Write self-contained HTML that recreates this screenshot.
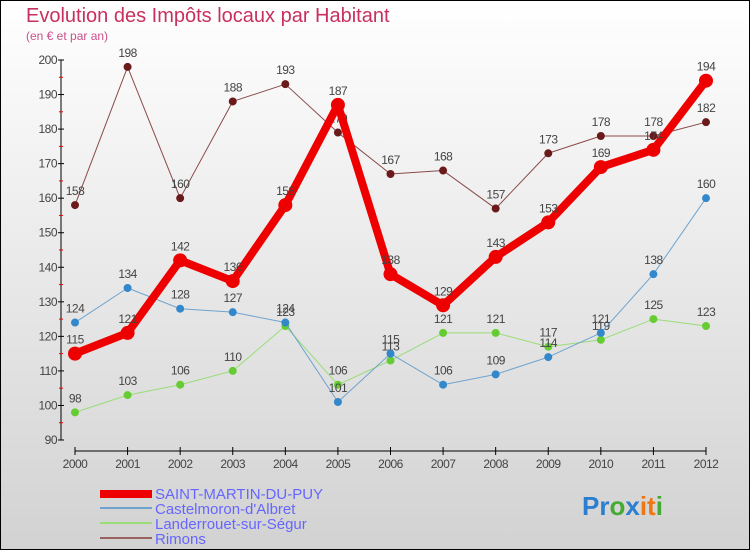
<!DOCTYPE html>
<html><head><meta charset="utf-8"><style>
body{margin:0;}
#c{width:750px;height:550px;position:relative;overflow:hidden;}
svg text{font-family:"Liberation Sans",sans-serif;}
</style></head><body>
<div id="c">
<svg id="s" width="750" height="550" xmlns="http://www.w3.org/2000/svg">
<defs><linearGradient id="bg" x1="0" y1="0" x2="0" y2="1"><stop offset="0" stop-color="#ffffff"/><stop offset="1" stop-color="#d2d2d2"/></linearGradient></defs>
<rect x="0.5" y="0.5" width="749" height="549" fill="url(#bg)" stroke="#000"/>
<text x="26" y="22" font-size="20" fill="#c8305f">Evolution des Impôts locaux par Habitant</text>
<text x="26" y="40" font-size="12" fill="#c8508a">(en € et par an)</text>
<g id="axes"></g><g id="series"></g>
<g>
<rect x="100" y="490" width="52" height="8" fill="#ee0000"/>
<text x="155" y="499" font-size="15" fill="#6666ff">SAINT-MARTIN-DU-PUY</text>
<line x1="100" y1="508" x2="152" y2="508" stroke="#6fa3cf" stroke-width="2"/>
<text x="155" y="514" font-size="15" fill="#6666ff">Castelmoron-d'Albret</text>
<line x1="100" y1="523" x2="152" y2="523" stroke="#99dd77" stroke-width="2"/>
<text x="155" y="529" font-size="15" fill="#6666ff">Landerrouet-sur-Ségur</text>
<line x1="100" y1="538" x2="152" y2="538" stroke="#9a6060" stroke-width="2"/>
<text x="155" y="544" font-size="15" fill="#6666ff">Rimons</text>
</g>
<text x="582" y="515" font-size="26" font-weight="bold"><tspan fill="#2a7fd0">Pr</tspan><tspan fill="#44aa33">o</tspan><tspan fill="#2a7fd0">x</tspan><tspan fill="#ee7711">it</tspan><tspan fill="#44aa33">i</tspan></text>
</svg></div>
<script>
const years=[2000,2001,2002,2003,2004,2005,2006,2007,2008,2009,2010,2011,2012];
const yTicks=[90,100,110,120,130,140,150,160,170,180,190,200];
const saintMartin=[115,121,142,136,158,187,138,129,143,153,169,174,194];
const castelmoron=[124,134,128,127,124,101,115,106,109,114,121,138,160];
const landerrouet=[98,103,106,110,123,106,113,121,121,117,119,125,123];
const rimons=[158,198,160,188,193,179,167,168,157,173,178,178,182];
const NS="http://www.w3.org/2000/svg";
function xs(i){return 75+i*(706-75)/(years.length-1);}
function ys(v){return 440-(v-90)*(380/110);}
function mk(t,a,p){const e=document.createElementNS(NS,t);for(const k in a)e.setAttribute(k,a[k]);p.appendChild(e);return e;}
const ax=document.getElementById('axes');
let e=mk('line',{x1:61,y1:ys(200),x2:61,y2:ys(90),stroke:'#000','stroke-width':1},ax);


yTicks.forEach(v=>{
 let t=mk('line',{x1:58,y1:ys(v),x2:64,y2:ys(v),stroke:'#000'},ax);
 
 
 if(v<200){let m=mk('line',{x1:59,y1:ys(v+5),x2:63,y2:ys(v+5),stroke:'#e00'},ax);
 
 }
 let l=mk('text',{x:57,y:ys(v)+4,'font-size':12,fill:'#444','text-anchor':'end','letter-spacing':'-0.5'},ax);l.textContent=v;
 
 
});
e=mk('line',{x1:75,y1:451,x2:706,y2:451,stroke:'#000'},ax);


years.forEach((y,i)=>{
 let t=mk('line',{x1:xs(i),y1:447,x2:xs(i),y2:455,stroke:'#000'},ax);
 
 
 let l=mk('text',{x:xs(i),y:468,'font-size':12,fill:'#444','text-anchor':'middle','letter-spacing':'-0.5'},ax);l.textContent=y;
 
 
});
const sg=document.getElementById('series');
function draw(data,name,col,w,r,dotCol){
 const g=mk('g',{},sg);
 
 
 let p=mk('polyline',{points:data.map((v,i)=>xs(i)+','+ys(v)).join(' '),fill:'none',stroke:col,'stroke-width':w,'stroke-linejoin':'round'},g);
 
 
 data.forEach((v,i)=>{
  let c=mk('circle',{cx:xs(i),cy:ys(v),r:r,fill:dotCol},g);
  
  
  let l=mk('text',{x:xs(i),y:ys(v)-10,'font-size':12,fill:'#444','text-anchor':'middle','letter-spacing':'-0.5'},g);l.textContent=v;
  
  
 });
}
draw(rimons,'rimons','#8a4a4a',1,4,'#6a1a1a');
draw(landerrouet,'landerrouet','#99dd77',1,4,'#66cc33');
draw(castelmoron,'castelmoron','#6fa3cf',1,4,'#3388cc');
draw(saintMartin,'saint-martin','#ee0000',8,7,'#ee0000');
</script>
</body></html>
